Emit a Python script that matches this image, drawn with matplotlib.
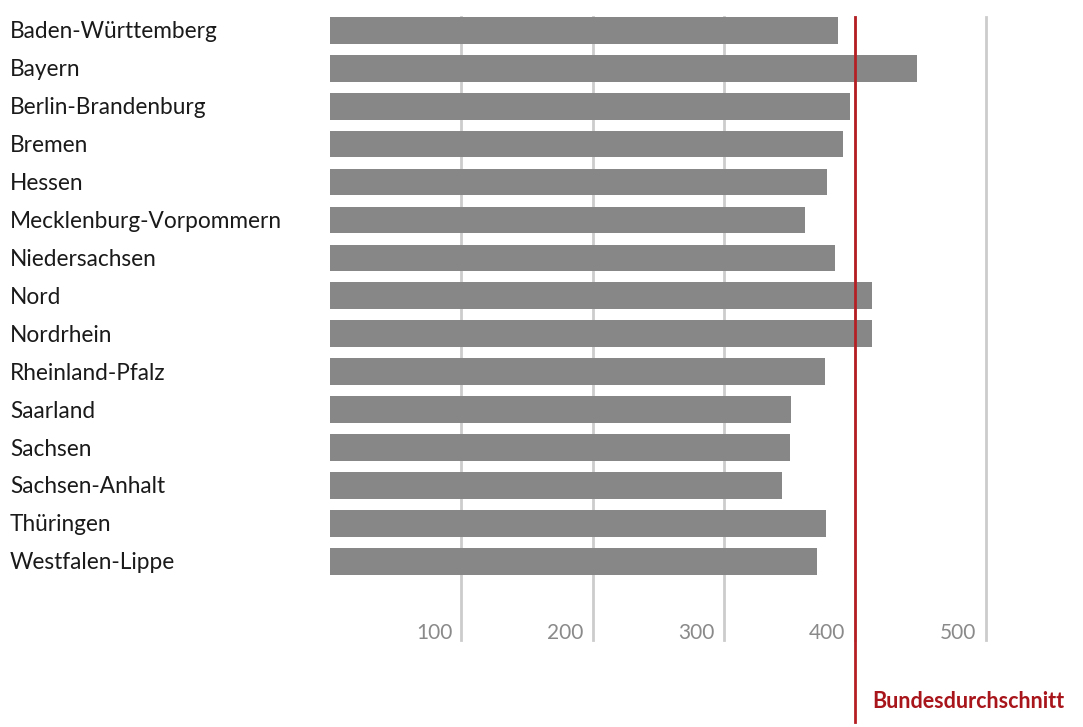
import matplotlib.pyplot as plt
from matplotlib.transforms import blended_transform_factory

laender = ['Baden-Württemberg', 'Bayern', 'Berlin-Brandenburg', 'Bremen', 'Hessen',
           'Mecklenburg-Vorpommern', 'Niedersachsen', 'Nord', 'Nordrhein',
           'Rheinland-Pfalz', 'Saarland', 'Sachsen', 'Sachsen-Anhalt',
           'Thüringen', 'Westfalen-Lippe']
werte = [387.4, 447.7, 396.2, 391.2, 379.0, 362.2, 385.0, 413.4, 413.4,
         377.5, 351.5, 350.8, 344.7, 378.3, 371.4]
ticks = [100, 200, 300, 400, 500]
bundesschnitt = 400

plt.rcParams['font.family'] = ['Lato', 'DejaVu Sans']

fig = plt.figure(figsize=(10.83, 7.27), dpi=100)
ax = fig.add_axes([330.5 / 1083, 0, (1083 - 330.5) / 1083, 1])
ax.set_xlim(0, (1083 - 330.5) / 1.31)
ax.set_ylim(18.37, -0.799)
ax.axis('off')

y = list(range(len(laender)))

# Gitterlinien
for t in ticks:
    ax.plot([t, t], [-0.35, 16.07], color='#cccccc', lw=2, zorder=1)
    ax.text(t - 7, 15.89, str(t), ha='right', va='center', fontsize=15, color='#8a8a8a')

ax.barh(y, werte, height=0.704, color='#878787', zorder=2)

ax.plot([bundesschnitt, bundesschnitt], [-0.35, 18.24], color='#b51f24', lw=2, zorder=3)
ax.text(bundesschnitt + 13.5, 17.71, 'Bundesdurchschnitt', ha='left', va='center',
        fontsize=15.5, fontweight='bold', color='#a8151b')

trans = blended_transform_factory(fig.transFigure, ax.transData)
for i, name in enumerate(laender):
    ax.text(10 / 1083, i + 0.04, name, transform=trans, ha='left', va='center',
            fontsize=16.3, color='#1a1a1a')

fig.savefig('out.png', dpi=100)
